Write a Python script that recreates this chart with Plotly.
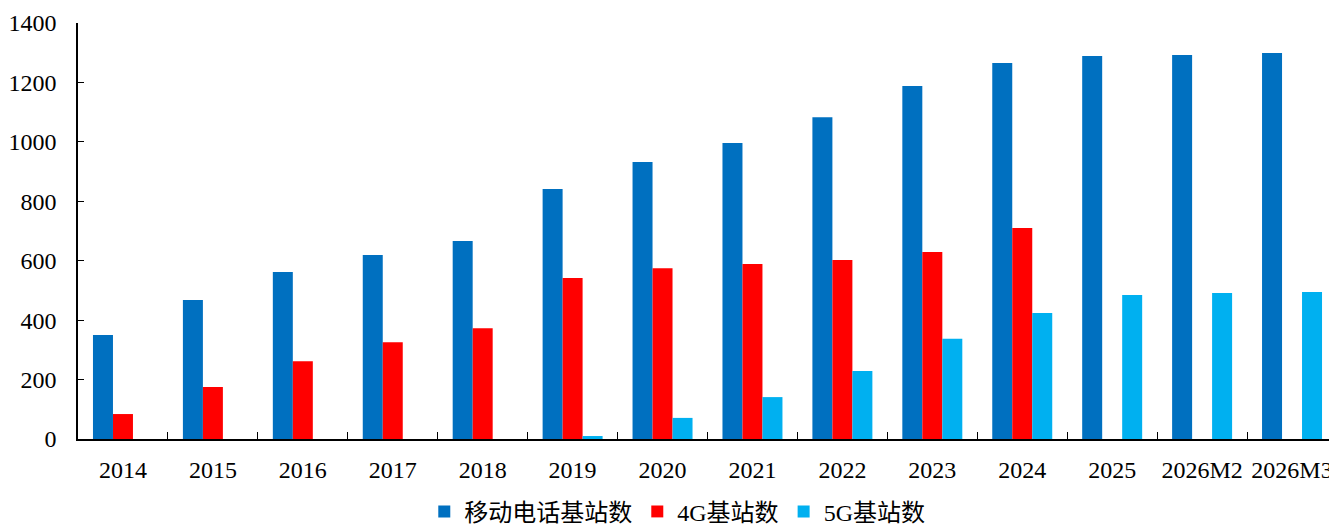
import plotly.graph_objects as go

categories = ["2014", "2015", "2016", "2017", "2018", "2019", "2020", "2021",
              "2022", "2023", "2024", "2025", "2026M2", "2026M3"]
mobile = [350, 468, 562, 619, 666, 841, 932, 996, 1083, 1188, 1265, 1289, 1292, 1299]
g4 = [84, 175, 262, 326, 373, 542, 575, 589, 602, 629, 710, None, None, None]
g5 = [None, None, None, None, None, 10, 71, 141, 229, 337, 424, 485, 491, 495]

names = ["移动电话基站数", "4G基站数", "5G基站数"]
colors = ["#0070C0", "#FF0000", "#00B0F0"]

fig = go.Figure()
for name, vals, c in zip(names, [mobile, g4, g5], colors):
    fig.add_trace(go.Bar(x=categories, y=vals, name=name, marker_color=c,
                         marker_line_width=0))

font_family = "Liberation Serif, Noto Sans CJK SC, serif"
fig.update_layout(
    width=1329, height=521,
    margin=dict(l=70, r=0, t=15, b=90, autoexpand=False),
    plot_bgcolor="white", paper_bgcolor="white",
    barmode="group", bargap=0.333, bargroupgap=0,
    font=dict(family=font_family, size=24, color="black"),
    showlegend=True,
    legend=dict(orientation="h", x=0.476, xanchor="center",
                y=-0.175, yanchor="middle",
                font=dict(size=24, family=font_family),
                itemwidth=30, tracegroupgap=0),
    xaxis=dict(type="category", showline=True, linecolor="black", linewidth=1.5,
               ticks="inside", tickson="boundaries", ticklen=7, tickcolor="black",
               showgrid=False, tickfont=dict(size=24), automargin=False,
               tickangle=0, ticklabelstandoff=8),
    yaxis=dict(range=[0, 1400], dtick=200, showline=True, linecolor="black", linewidth=1.5,
               ticks="inside", ticklen=6, tickcolor="black", showgrid=False,
               zeroline=False, tickfont=dict(size=24), automargin=False,
               ticklabelstandoff=15),
)

fig.write_html("out.html")
